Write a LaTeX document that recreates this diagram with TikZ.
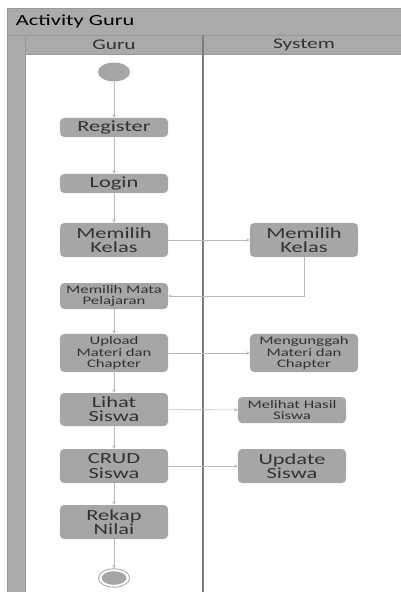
\documentclass[tikz,border=0pt]{standalone}
\usepackage{fontspec}
\setmainfont{Carlito}[FakeStretch=1.45]
\usetikzlibrary{arrows.meta,shapes.geometric}
\definecolor{boxgray}{RGB}{166,166,166}
\definecolor{bargray}{RGB}{170,170,170}
\definecolor{linegray}{RGB}{185,185,185}
\definecolor{lanegray}{RGB}{125,125,125}
\definecolor{txtgray}{RGB}{50,50,50}

\begin{document}
\begin{tikzpicture}[
    x=0.025cm, y=-0.025cm,
    act/.style={fill=boxgray, rounded corners=3pt, inner sep=0pt, align=center,
        minimum width=2.7cm, text=txtgray, font=\fontsize{11}{10.2}\selectfont},
    actsm/.style={act, font=\fontsize{8.2}{8.2}\selectfont},
    flow/.style={->, >={Stealth[length=2.5pt,width=2.5pt]}, draw=linegray, thin}
]
    \useasboundingbox (0,0) rectangle (401,592);

    % Pool and lanes
    \fill[bargray] (7,8) rectangle (401,35);
    \fill[bargray] (7,35) rectangle (25,592);
    \fill[bargray] (25,35) rectangle (401,54);
    \draw[gray!80, thin] (7,592) -- (7,8) -- (401,8);
    \draw[gray!80, thin] (7,35) -- (401,35);
    \draw[gray!80, thin] (25,54) -- (401,54);
    \draw[gray!80, thin] (25,35) -- (25,592);
    \draw[lanegray, line width=1pt] (203,35) -- (203,592);

    \node[anchor=west, font=\fontsize{11}{12}\selectfont] (title) at (11,21.5) {Activity Guru};
    \node[text=txtgray, font=\fontsize{10.5}{12}\selectfont] (hGuru) at (114,44.5) {Guru};
    \node[text=txtgray, font=\fontsize{10.5}{12}\selectfont] (hSystem) at (304,44.5) {System};

    % Guru lane
    \node[ellipse, fill=boxgray, minimum width=0.8cm, minimum height=0.47cm, inner sep=0pt] (start) at (114,72) {};
    \node[act, minimum height=0.475cm] (register) at (114,127.5) {Register};
    \node[act, minimum height=0.475cm] (login) at (114,183.5) {Login};
    \node[act, minimum height=0.85cm] (kelasGuru) at (114,240) {Memilih\\Kelas};
    \node[actsm, minimum height=0.65cm, font=\fontsize{8.2}{7.2}\selectfont] (mapel) at (114,296) {Memilih Mata\\Pelajaran};
    \node[actsm, minimum height=0.95cm] (upload) at (114,353) {Upload\\Materi dan\\Chapter};
    \node[act, minimum height=0.825cm] (lihat) at (114,409.5) {Lihat\\Siswa};
    \node[act, minimum height=0.85cm] (crud) at (114,466) {CRUD\\Siswa};
    \node[act, minimum height=0.85cm] (rekap) at (114,522) {Rekap\\Nilai};
    \node[ellipse, draw=boxgray, fill=white, line width=0.6pt, minimum width=0.78cm, minimum height=0.46cm, inner sep=0pt] (stop) at (114,578) {};
    \node[ellipse, fill=boxgray, minimum width=0.62cm, minimum height=0.34cm, inner sep=0pt] (stopIn) at (114,578) {};

    % System lane
    \node[act, minimum height=0.85cm] (kelasSystem) at (304,240) {Memilih\\Kelas};
    \node[actsm, minimum height=0.95cm] (unggah) at (304,353) {Mengunggah\\Materi dan\\Chapter};
    \node[actsm, minimum height=0.65cm, font=\fontsize{8.2}{7.2}\selectfont] (hasil) at (292,410) {Melihat Hasil\\Siswa};
    \node[act, minimum height=0.85cm] (update) at (292,466) {Update\\Siswa};

    % Flows
    \draw[flow] (start) -- (register);
    \draw[flow] (register) -- (login);
    \draw[flow] (login) -- (kelasGuru);
    \draw[flow] (kelasGuru) -- (kelasSystem);
    \draw[flow] (kelasSystem.south) |- (mapel.east);
    \draw[flow] (mapel) -- (upload);
    \draw[flow] (upload) -- (unggah);
    \draw[flow] (upload) -- (lihat);
    \draw[flow] (lihat) -- (hasil);
    \draw[flow] (lihat) -- (crud);
    \draw[flow] (crud) -- (update);
    \draw[flow] (crud) -- (rekap);
    \draw[flow] (rekap) -- (stop);
\end{tikzpicture}
\end{document}
